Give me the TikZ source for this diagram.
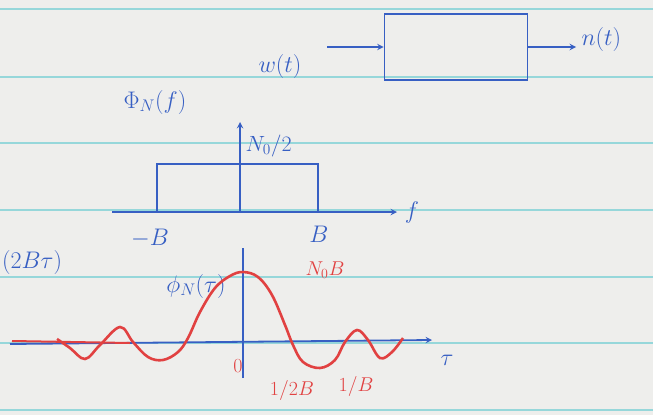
\RequirePackage{fix-cm}
\documentclass[tikz,border=0pt]{standalone}
\usepackage{amsmath}
\definecolor{paperBg}{RGB}{238,238,236}
\definecolor{ruleLn}{RGB}{150,215,218}
\definecolor{inkBlue}{RGB}{55,95,195}
\definecolor{inkRed}{RGB}{225,65,65}
\begin{document}
\begin{tikzpicture}[x=1pt,y=-1pt,
    inkLine/.style={inkBlue,line width=1.8pt},
    sigArrow/.style={->,>=stealth,inkLine},
    redPlot/.style={inkRed,line width=2.6pt,smooth,tension=0.6},
    blueLbl/.style={inkBlue,font=\fontsize{24}{28}\selectfont},
    redLbl/.style={inkRed,font=\fontsize{20}{24}\selectfont},
]
\useasboundingbox (0,0) rectangle (653,415);
\fill[paperBg] (0,0) rectangle (653,415);
\clip (0,0) rectangle (653,415);
% Ruled paper
\foreach \yy in {9,77,143,210,277,343,410}
  \draw[ruleLn, line width=1.1pt] (0,\yy) -- (653,\yy);
% Filter block
\node[draw=inkBlue, line width=1.8pt, minimum width=143pt, minimum height=66pt, inner sep=0pt] (filt) at (456,47) {};
\coordinate (wIn) at (327,47);
\coordinate (nOut) at (576,47);
\draw[sigArrow] (wIn) -- (filt.west);
\draw[sigArrow] (filt.east) -- (nOut);
\node[blueLbl] (wLbl) at (280,66) {$w(t)$};
\node[blueLbl, anchor=west] (nLbl) at (578,40) {$n(t)$};
% Power spectrum
\coordinate (fStart) at (112,212);
\coordinate (fEnd) at (397,212);
\coordinate (fO) at (240,212);
\coordinate (fTop) at (240,122);
\coordinate (mB) at (157,212);
\coordinate (pB) at (318,212);
\node[blueLbl] (phiF) at (155,102) {$\Phi_N(f)$};
\draw[sigArrow] (fStart) -- (fEnd);
\node[blueLbl] (fLbl) at (412,212) {$f$};
\draw[sigArrow] (fO) -- (fTop);
\node[inkBlue, font=\fontsize{22}{26}\selectfont, anchor=west] (nHalf) at (242,146) {$N_0/2$};
\draw[inkLine] (mB) -- ++(0,-48) -| (pB);
\node[blueLbl] (mBLbl) at (150,238) {$-B$};
\node[blueLbl] (pBLbl) at (319,234) {$B$};
% Autocorrelation
\coordinate (tStart) at (10,344);
\coordinate (tEnd) at (432,340);
\coordinate (tBot) at (243,378);
\coordinate (tTop) at (243,248);
\draw[sigArrow] (tStart) -- (tEnd);
\draw[inkLine] (tBot) -- (tTop);
\node[blueLbl] (tauLbl) at (447,360) {$\tau$};
\node[blueLbl, anchor=west, inner sep=1pt] (sincLbl) at (1,262) {$(2B\tau)$};
\node[blueLbl] (phiT) at (196,286) {$\phi_N(\tau)$};
\draw[inkRed, line width=2pt] (12,341) -- (130,343);
\draw[redPlot] plot coordinates {(57,339) (70,348) (85,359) (100,345) (120,327) (133,342)
  (148,357) (163,360) (178,352) (188,338) (200,312) (215,288) (230,276) (243,272)
  (258,277) (272,295) (285,325) (293,345) (303,362) (320,368) (335,360) (345,342)
  (357,330) (368,340) (380,358) (392,352) (403,338)};
\node[redLbl] (peakLbl) at (325,270) {$N_0B$};
\node[redLbl] (zeroLbl) at (238,366) {$0$};
\node[redLbl] (halfLbl) at (292,390) {$1/2B$};
\node[redLbl] (invLbl) at (356,386) {$1/B$};
\end{tikzpicture}
\end{document}
